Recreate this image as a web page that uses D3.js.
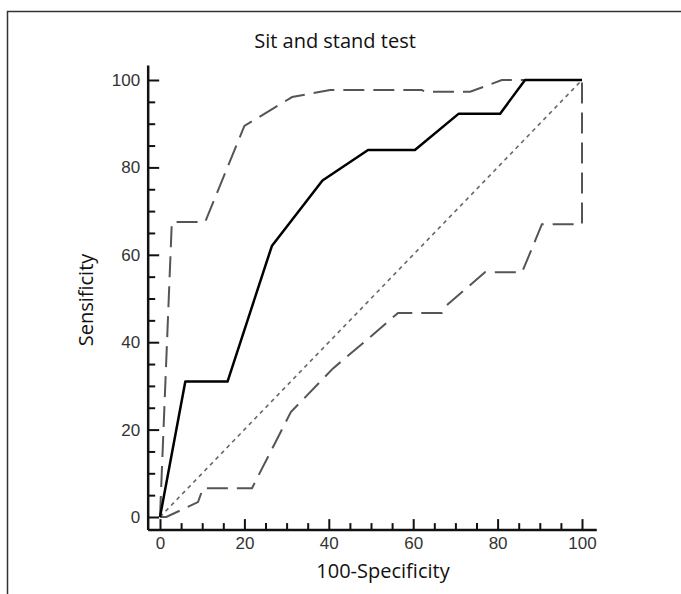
<!DOCTYPE html>
<html>
<head>
<meta charset="utf-8">
<script src="https://d3js.org/d3.v7.min.js"></script>
<style>
  body { margin: 0; background: #fff; }
</style>
</head>
<body>
<svg id="chart" width="681" height="594"></svg>
<script>
// ROC curve
const rocX = [0, 6, 16, 26.5, 38.5, 49.3, 60.4, 70.8, 80.6, 86.5, 100];
const rocY = [0, 31, 31, 62, 77, 84, 84, 92.3, 92.3, 100, 100];

// upper confidence bound
const upperX = [0, 2.8, 10.7, 20, 31.3, 40.3, 62, 63, 73.5, 81, 100];
const upperY = [0, 67.5, 67.5, 89.5, 96.1, 97.7, 97.7, 97.3, 97.3, 100, 100];

// lower confidence bound
const lowerX = [0, 1.5, 9, 10.2, 21.8, 31, 34, 41, 49, 56.4, 66.8, 68, 77, 85.8, 90.5, 100, 100];
const lowerY = [0, 0, 3.4, 6.6, 6.6, 24, 27, 34, 40.5, 46.7, 46.7, 48.5, 56, 56, 67, 67, 100];

// reference diagonal
const diagX = [0, 100];
const diagY = [0, 100];

const majorTicks = [0, 20, 40, 60, 80, 100];
const minorTicks = d3.range(0, 101, 5).filter(function(d) { return d % 20 != 0; });

const title = "Sit and stand test";
const xTitle = "100-Specificity";
const yTitle = "Sensificity";

var svg = d3.select("#chart");

var x = d3.scaleLinear().domain([0, 100]).range([160, 582]);
var y = d3.scaleLinear().domain([0, 100]).range([517, 80]);

// frame
svg.append("path")
  .attr("d", "M7.5,594V11.5H681")
  .attr("fill", "none")
  .attr("stroke", "#333")
  .attr("stroke-width", 1.5);

// title
svg.append("text")
  .attr("x", 335).attr("y", 48)
  .attr("text-anchor", "middle")
  .style("font-family", "'Open Sans', sans-serif")
  .style("font-size", "20px")
  .attr("fill", "#111")
  .text(title);

var xAxisY = y(-3);
var yAxisX = x(-2.8);

// minor ticks
svg.append("g")
  .attr("transform", "translate(0," + xAxisY + ")")
  .call(d3.axisBottom(x).tickValues(minorTicks).tickSize(-7).tickFormat(""))
  .call(function(g) { g.select(".domain").remove(); });
svg.append("g")
  .attr("transform", "translate(" + yAxisX + ",0)")
  .call(d3.axisLeft(y).tickValues(minorTicks).tickSize(-7).tickFormat(""))
  .call(function(g) { g.select(".domain").remove(); });

// major ticks + labels
svg.append("g")
  .attr("transform", "translate(0," + xAxisY + ")")
  .call(d3.axisBottom(x).tickValues(majorTicks).tickSize(-11).tickPadding(7))
  .call(function(g) { g.select(".domain").remove(); });
svg.append("g")
  .attr("transform", "translate(" + yAxisX + ",0)")
  .call(d3.axisLeft(y).tickValues(majorTicks).tickSize(-11).tickPadding(8))
  .call(function(g) { g.select(".domain").remove(); });

svg.selectAll(".tick line").attr("stroke", "#111").attr("stroke-width", 2);
svg.selectAll(".tick text")
  .style("font-family", "'Liberation Sans', Arial, sans-serif")
  .style("font-size", "17px")
  .attr("fill", "#333");

// axis lines
svg.append("line")
  .attr("x1", x(-2.8)).attr("x2", x(103.5))
  .attr("y1", xAxisY).attr("y2", xAxisY)
  .attr("stroke", "#111").attr("stroke-width", 2.5);
svg.append("line")
  .attr("x1", yAxisX).attr("x2", yAxisX)
  .attr("y1", y(-3)).attr("y2", y(103.3))
  .attr("stroke", "#111").attr("stroke-width", 2.5);

var line = d3.line()
  .x(function(d) { return x(d[0]); })
  .y(function(d) { return y(d[1]); });

// diagonal
svg.append("path")
  .datum(d3.zip(diagX, diagY))
  .attr("fill", "none")
  .attr("stroke", "#666")
  .attr("stroke-width", 1.6)
  .attr("stroke-dasharray", "4,4")
  .attr("d", line);

// confidence bounds
[[upperX, upperY], [lowerX, lowerY]].forEach(function(s) {
  svg.append("path")
    .datum(d3.zip(s[0], s[1]))
    .attr("fill", "none")
    .attr("stroke", "#555")
    .attr("stroke-width", 2)
    .attr("stroke-dasharray", "21,9")
    .attr("d", line);
});

// ROC curve
svg.append("path")
  .datum(d3.zip(rocX, rocY))
  .attr("fill", "none")
  .attr("stroke", "#000")
  .attr("stroke-width", 2.5)
  .attr("stroke-linejoin", "round")
  .attr("d", line);

// axis titles
svg.append("text")
  .attr("x", 383).attr("y", 578)
  .attr("text-anchor", "middle")
  .style("font-family", "'Open Sans', sans-serif")
  .style("font-size", "20px")
  .attr("fill", "#111")
  .text(xTitle);

svg.append("text")
  .attr("transform", "translate(93,300) rotate(-90)")
  .attr("text-anchor", "middle")
  .style("font-family", "'Open Sans', sans-serif")
  .style("font-size", "20px")
  .attr("fill", "#111")
  .text(yTitle);
</script>
</body>
</html>
